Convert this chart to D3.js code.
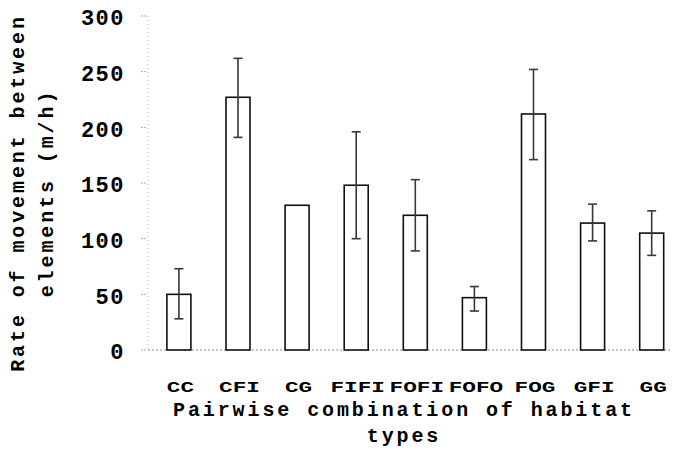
<!DOCTYPE html>
<html>
<head>
<meta charset="utf-8">
<script src="https://cdn.jsdelivr.net/npm/d3@7"></script>
<style>
  html, body { margin: 0; padding: 0; background: #fff; }
  svg { display: block; }
  text { font-family: "Liberation Mono", "Courier New", monospace; font-weight: bold; fill: #000; }
</style>
</head>
<body>
<svg id="chart" width="673" height="475"></svg>
<script>
const categories = ["CC", "CFI", "CG", "FIFI", "FOFI", "FOFO", "FOG", "GFI", "GG"];
const means      = [50, 227, 130, 148, 121, 47, 212, 114, 105];
const errTop     = [73, 262, null, 196, 153, 57, 252, 131, 125];
const errBottom  = [28, 191, null, 100, 89, 35, 171, 98, 85];
const yTicks     = [0, 50, 100, 150, 200, 250, 300];
const yTitle     = ["Rate of movement between", "elements (m/h)"];
const xTitle     = ["Pairwise combination of habitat", "types"];

const svg = d3.select("#chart");
const x0 = 148, x1 = 682.6, yBase = 350, yTop = 16;

const x = d3.scaleBand().domain(categories).range([x0, x1])
  .paddingInner(0.594).paddingOuter(0.32);
const y = d3.scaleLinear().domain([0, 300]).range([yBase, yTop]);

// y axis (faint dotted gray)
svg.append("line")
  .attr("x1", x0).attr("x2", x0).attr("y1", y(300)).attr("y2", y(0))
  .attr("stroke", "#b5b5b5").attr("stroke-width", 1).attr("stroke-dasharray", "1,3");
// baseline
svg.append("line")
  .attr("x1", x0).attr("x2", 672).attr("y1", y(0)).attr("y2", y(0))
  .attr("stroke", "#8a8a8a").attr("stroke-width", 1).attr("stroke-dasharray", "2,2");

// ticks
const tg = svg.append("g");
tg.selectAll("line").data(yTicks).join("line")
  .attr("x1", x0 - 7).attr("x2", x0 - 1)
  .attr("y1", d => y(d)).attr("y2", d => y(d))
  .attr("stroke", "#aaa").attr("stroke-width", 1).attr("stroke-dasharray", "2,1");
tg.selectAll("text").data(yTicks).join("text")
  .attr("x", 125).attr("y", d => y(d) + 3.5)
  .attr("text-anchor", "end").attr("dominant-baseline", "middle")
  .style("font-size", "22px").style("letter-spacing", "1.5px")
  .text(d => d);

// bars
svg.append("g").selectAll("rect").data(categories).join("rect")
  .attr("x", d => x(d)).attr("width", x.bandwidth())
  .attr("y", (d, i) => y(means[i])).attr("height", (d, i) => y(0) - y(means[i]))
  .attr("fill", "#fff").attr("stroke", "#111").attr("stroke-width", 1.6);

// error bars
const eg = svg.append("g").attr("stroke", "#383838").attr("stroke-width", 1.6);
categories.forEach((c, i) => {
  if (errTop[i] == null) return;
  const cx = x(c) + x.bandwidth() / 2;
  eg.append("line").attr("x1", cx).attr("x2", cx).attr("y1", y(errTop[i])).attr("y2", y(errBottom[i]));
  eg.append("line").attr("x1", cx - 4.5).attr("x2", cx + 4.5).attr("y1", y(errTop[i])).attr("y2", y(errTop[i]));
  eg.append("line").attr("x1", cx - 4.5).attr("x2", cx + 4.5).attr("y1", y(errBottom[i])).attr("y2", y(errBottom[i]));
});

// x tick labels
svg.append("g").selectAll("text").data(categories).join("text")
  .attr("transform", d => `translate(${x(d) + x.bandwidth() / 2 + 1.5},392) scale(1.62,1)`)
  .attr("text-anchor", "middle")
  .style("font-size", "14px")
  .text(d => d);

// x title
svg.append("g").selectAll("text").data(xTitle).join("text")
  .attr("x", 404).attr("y", (d, i) => 416 + i * 26)
  .attr("text-anchor", "middle")
  .style("font-size", "20px").style("letter-spacing", "2.9px")
  .text(d => d);

// y title
svg.append("g").selectAll("text").data(yTitle).join("text")
  .attr("transform", (d, i) => `translate(${24 + i * 29},193) rotate(-90)`)
  .attr("text-anchor", "middle")
  .style("font-size", "20px").style("letter-spacing", "2.9px")
  .text(d => d);
</script>
</body>
</html>
